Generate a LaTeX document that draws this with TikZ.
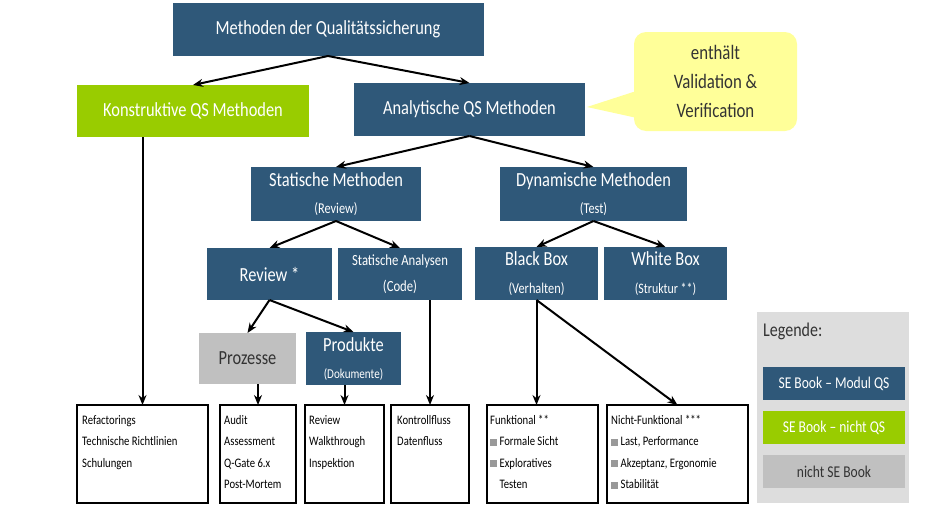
\documentclass[tikz,border=0pt]{standalone}
\usepackage{fontspec}
\setmainfont{Carlito}[FakeStretch=0.82]
\usetikzlibrary{arrows.meta}

\definecolor{qsblau}{HTML}{2F5879}
\definecolor{qsgruen}{HTML}{99CC00}
\definecolor{qsgrau}{HTML}{C0C0C0}
\definecolor{legendgrau}{HTML}{DDDDDD}
\definecolor{notizgelb}{HTML}{FFFF99}
\definecolor{punktgrau}{HTML}{999999}
\definecolor{schrift}{HTML}{333333}

\newcommand{\klein}{\fontsize{15}{18}\selectfont}
\newcommand{\punkt}{\textcolor{punktgrau}{\rule{7pt}{7pt}}\ }

\tikzset{
  box/.style={inner sep=0pt, outer sep=0pt, align=center, font=\fontsize{20}{24}\selectfont},
  blau/.style={box, fill=qsblau, text=white},
  gruen/.style={box, fill=qsgruen, text=white},
  grau/.style={box, fill=qsgrau, text=schrift},
  liste/.style={draw, line width=1.3pt, outer sep=0pt, minimum height=98pt},
  listtext/.style={anchor=north west, align=left, inner sep=0pt, font=\fontsize{13}{21.5}\selectfont},
  pfeil/.style={-{Stealth[length=10pt, width=8pt]}, line width=2pt},
}

\begin{document}
\begin{tikzpicture}[x=1pt, y=-1pt]
    \useasboundingbox (0,0) rectangle (932,514);

    % Draw top levels
    \node[blau, minimum width=311pt, minimum height=53pt] (qs) at (328,29.5) {Methoden der Qualitätssicherung};
    \node[gruen, minimum width=232pt, minimum height=52pt] (konst) at (193,111) {Konstruktive QS Methoden};
    \node[blau, minimum width=231pt, minimum height=53pt] (analyt) at (469.5,109.5) {Analytische QS Methoden};

    % Draw callout
    \node[fill=notizgelb, rounded corners=12pt, minimum width=163pt, minimum height=99pt, align=center,
          text=schrift, font=\fontsize{20.5}{29}\selectfont] (notiz) at (715.5,81.5) {enthält\\Validation \&\\Verification};
    \coordinate (zeiger) at (587,107);
    \fill[notizgelb] (zeiger) -- ([xshift=1pt, yshift=-10pt]notiz.west) -- ([xshift=1pt, yshift=-36pt]notiz.west) -- cycle;

    % Draw static and dynamic methods
    \node[blau, minimum width=170pt, minimum height=54pt] (stat) at (336,194) {Statische Methoden\\[3pt]{\klein (Review)}};
    \node[blau, minimum width=187pt, minimum height=54pt] (dyn) at (593.5,194) {Dynamische Methoden\\[3pt]{\klein (Test)}};

    \node[blau, minimum width=125pt, minimum height=52pt] (review) at (269.5,274) {Review *};
    \node[blau, minimum width=124pt, minimum height=52pt, font=\fontsize{15.5}{18}\selectfont] (statan) at (400,274) {Statische Analysen\\[8pt](Code)};
    \node[blau, minimum width=123pt, minimum height=53pt] (black) at (536.5,273.5) {Black Box\\[4pt]{\klein (Verhalten)}};
    \node[blau, minimum width=123pt, minimum height=53pt] (white) at (665.5,273.5) {White Box\\[4pt]{\fontsize{14.5}{17}\selectfont (Struktur **)}};

    \node[grau, minimum width=97pt, minimum height=51pt] (prozesse) at (247.5,358.5) {Prozesse};
    \node[blau, minimum width=95pt, minimum height=53pt] (produkte) at (353.5,358.5) {Produkte\\[3pt]{\fontsize{13.5}{16}\selectfont (Dokumente)}};

    % Draw bottom boxes
    \node[liste, minimum width=131pt] (b1) at (142.5,454) {};
    \node[liste, minimum width=76pt] (b2) at (258,454) {};
    \node[liste, minimum width=79pt] (b3) at (344.5,454) {};
    \node[liste, minimum width=78pt] (b4) at (430,454) {};
    \node[liste, minimum width=111pt] (b5) at (542.5,454) {};
    \node[liste, minimum width=141pt] (b6) at (677.5,454) {};

    \node[listtext] (t1) at ([xshift=5pt, yshift=-10pt]b1.north west) {Refactorings\\Technische Richtlinien\\Schulungen};
    \node[listtext] (t2) at ([xshift=4pt, yshift=-10pt]b2.north west) {Audit\\Assessment\\Q-Gate 6.x\\Post-Mortem};
    \node[listtext] (t3) at ([xshift=4pt, yshift=-10pt]b3.north west) {Review\\Walkthrough\\Inspektion};
    \node[listtext] (t4) at ([xshift=6pt, yshift=-10pt]b4.north west) {Kontrollfluss\\Datenfluss};
    \node[listtext] (t5) at ([xshift=3pt, yshift=-10pt]b5.north west) {Funktional **\\\punkt Formale Sicht\\\punkt Exploratives\\\phantom{\punkt}Testen};
    \node[listtext] (t6) at ([xshift=4pt, yshift=-10pt]b6.north west) {Nicht-Funktional ***\\\punkt Last, Performance\\\punkt Akzeptanz, Ergonomie\\\punkt Stabilität};

    % Draw legend
    \node[fill=legendgrau, minimum width=152pt, minimum height=191pt] (legende) at (833,407.5) {};
    \node[anchor=west, inner sep=0pt, text=schrift, font=\fontsize{19.5}{23}\selectfont] (legtitel) at (763,331) {Legende:};
    \node[blau, minimum width=142pt, minimum height=33pt, font=\fontsize{16.5}{19}\selectfont] (legblau) at (834,383.5) {SE Book -- Modul QS};
    \node[gruen, minimum width=142pt, minimum height=33pt, font=\fontsize{16.5}{19}\selectfont] (leggruen) at (834,427.5) {SE Book -- nicht QS};
    \node[grau, minimum width=142pt, minimum height=33pt, font=\fontsize{16.5}{19}\selectfont] (leggrau) at (834,471.5) {nicht SE Book};

    % Draw edges
    \draw[pfeil] (qs.south) -- (konst.north);
    \draw[pfeil] (qs.south) -- (analyt.north);
    \draw[pfeil] (analyt.south) -- (stat.north);
    \draw[pfeil] (analyt.south) -- (dyn.north);
    \draw[pfeil] (stat.south) -- (review.north);
    \draw[pfeil] (stat.south) -- (statan.north);
    \draw[pfeil] (dyn.south) -- (black.north);
    \draw[pfeil] (dyn.south) -- (white.north);
    \draw[pfeil] (review.south) -- (prozesse.north);
    \draw[pfeil] (review.south) -- (produkte.north);
    \draw[pfeil] (konst.south -| b1.north) -- (b1.north);
    \draw[pfeil] (prozesse.south -| b2.north) -- (b2.north);
    \draw[pfeil] (produkte.south -| b3.north) -- (b3.north);
    \draw[pfeil] (statan.south -| b4.north) -- (b4.north);
    \draw[pfeil] (black.south) -- (black.south |- b5.north);
    \draw[pfeil] (black.south) -- (b6.north);
\end{tikzpicture}
\end{document}
